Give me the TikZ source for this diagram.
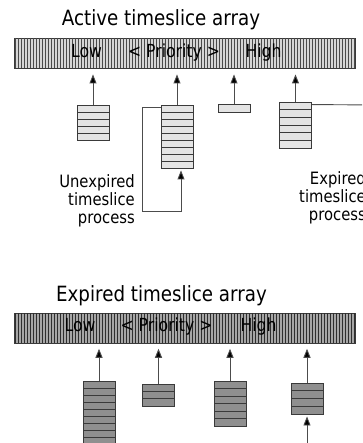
\documentclass[tikz,border=0pt]{standalone}
\usepackage{fontspec}
\newfontfamily\figfont[FakeStretch=0.87]{DejaVu Sans}
\usetikzlibrary{arrows.meta}
\definecolor{qedge}{HTML}{3A3A3A}
\definecolor{actfill}{HTML}{E4E4E4}
\definecolor{expfill}{HTML}{8F8F8F}
\definecolor{actbg}{HTML}{D6D6D6}
\definecolor{actstripe}{HTML}{4A4A4A}
\definecolor{expbg}{HTML}{A6A6A6}
\definecolor{expstripe}{HTML}{2E2E2E}
\tikzset{
  qline/.style={draw=qedge, line width=0.9pt},
  actbox/.style={qline, fill=actfill, minimum width=32pt, inner sep=0pt},
  expbox/.style={qline, fill=expfill, minimum width=32pt, inner sep=0pt},
  conn/.style={draw=black!70, line width=0.9pt},
  uparrow/.style={conn, -{Triangle[length=9pt,width=7pt,fill=black]}},
  title/.style={font=\figfont\fontsize{21}{21}\selectfont, anchor=base, inner sep=0pt},
  barlabel/.style={font=\figfont\fontsize{18}{18}\selectfont, anchor=base, inner sep=0pt},
  sidelabel/.style={font=\figfont\fontsize{17}{17.8}\selectfont, align=right, anchor=north east, inner sep=0pt},
}
\begin{document}
\begin{tikzpicture}[x=1pt,y=-1pt]
\useasboundingbox (0,0) rectangle (362,443);
\clip (0,0) rectangle (362,443);

% active array
\node[title] (acttitle) at (161,26) {Active timeslice array};
\node[qline, fill=actbg, minimum width=341pt, minimum height=30pt, inner sep=0pt] (act) at (184.5,53) {};
\foreach \i in {0,...,113}{
\draw[actstripe, line width=0.8pt] ({15.5+3*\i},38) -- ({15.5+3*\i},68);
}
\node[barlabel] (actlow) at (86.5,57.3) {Low};
\node[barlabel] (actprio) at (174,57.3) {< Priority >};
\node[barlabel] (acthigh) at (263.5,57.3) {High};

\foreach \n/\x/\y/\h/\r in {a1/93/105/35/5, a2/177/105/63/9, a3/234/104.5/8/1, a4/295.5/102/46/6}{
\node[actbox, minimum height=\h pt] (\n) at (\x,{\y+\h/2}) {};
\foreach \k in {1,...,\r}{
\draw[qline] ({\x-16},{\y+\k*\h/\r}) -- ({\x+16},{\y+\k*\h/\r});
}
\draw[uparrow, shorten >=6pt] (\n.north) -- (\n.north |- act.south);
}

% unexpired goes back into the same queue
\draw[uparrow, shorten >=2pt] ([yshift=-3pt]a2.north west) -- ++(-18,0) -- ++(0,104) -| ([xshift=4pt]a2.south);
\node[sidelabel] (unexp) at (135,174.8) {Unexpired\\timeslice\\process};

% expired leaves to the right
\coordinate (offright) at (375,105);
\draw[conn] ([yshift=-3pt]a4.north east) -- (offright);
\node[sidelabel] (exp) at (366,171.6) {Expired\\timeslice\\process};

% expired array
\node[title] (exptitle) at (161.5,301.7) {Expired timeslice array};
\node[qline, fill=expbg, minimum width=341pt, minimum height=30pt, inner sep=0pt] (expa) at (184.5,328.3) {};
\foreach \i in {0,...,113}{
\draw[expstripe, line width=0.8pt] ({15.5+3*\i},313.3) -- ({15.5+3*\i},343.3);
}
\node[barlabel] (explow) at (80,331.7) {Low};
\node[barlabel] (expprio) at (166.5,331.7) {< Priority >};
\node[barlabel] (exphigh) at (258.5,331.7) {High};

\foreach \n/\x/\y/\h/\r in {e1/99/381/70/10, e2/158.5/384/22/3, e3/230/381/45/6, e4/307/383/31/4}{
\node[expbox, minimum height=\h pt] (\n) at (\x,{\y+\h/2}) {};
\foreach \k in {1,...,\r}{
\draw[qline] ({\x-16},{\y+\k*\h/\r}) -- ({\x+16},{\y+\k*\h/\r});
}
\draw[uparrow, shorten >=5pt] (\n.north) -- (\n.north |- expa.south);
}

\coordinate (offbottom) at (307,455);
\draw[uparrow, shorten >=2pt] (offbottom) -- (e4.south);
\end{tikzpicture}
\end{document}
